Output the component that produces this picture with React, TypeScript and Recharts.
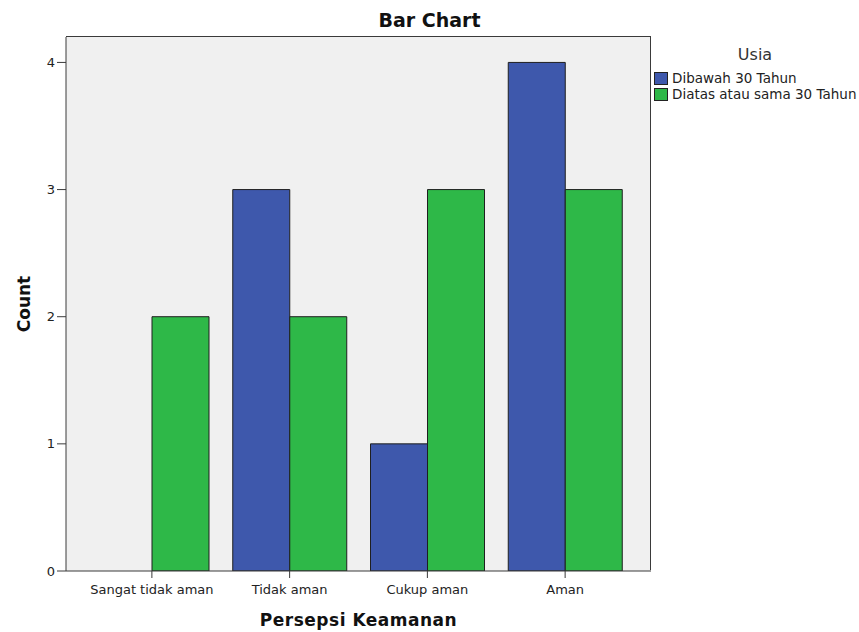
import React from "react";
import { BarChart, Bar, XAxis, YAxis, CartesianGrid, Label } from "recharts";

const categories = ["Sangat tidak aman", "Tidak aman", "Cukup aman", "Aman"];
const dibawah30 = [0, 3, 1, 4];
const diatas30 = [2, 2, 3, 3];
const yTicks = [0, 1, 2, 3, 4];
const seriesNames = ["Dibawah 30 Tahun", "Diatas atau sama 30 Tahun"];
const legendTitle = "Usia";
const chartTitle = "Bar Chart";

const BLUE = "#3E58AC";
const GREEN = "#2EB848";
const AXIS = "#3a3a3a";
const FONT = "'DejaVu Sans', sans-serif";

const W = 859;
const H = 632;
const M_TOP = 37;
const M_RIGHT = 208;
const Y_AXIS_W = 66;
const X_AXIS_H = 61;

const data = categories.map((c, i) => ({
  name: c,
  a: dibawah30[i],
  b: diatas30[i],
}));

const LegendBox = () => (
  <div style={{ position: "absolute", left: W - M_RIGHT, top: 40, width: M_RIGHT, fontFamily: FONT, color: "#222" }}>
    <div style={{ height: 24, lineHeight: "24px", paddingTop: 3, textAlign: "center", fontSize: 16, color: "#333" }}>
      {legendTitle}
    </div>
    <div style={{ marginTop: 3 }}>
      {seriesNames.map((n, i) => (
        <div key={n} style={{ display: "flex", alignItems: "center", height: 16, whiteSpace: "nowrap" }}>
          <div
            style={{
              marginLeft: 3,
              width: 12,
              height: 11,
              background: i === 0 ? BLUE : GREEN,
              border: "1px solid #222",
            }}
          />
          <span style={{ marginLeft: 4, fontSize: 13.5, lineHeight: "16px" }}>{n}</span>
        </div>
      ))}
    </div>
  </div>
);

export default function App() {
  return (
    <div style={{ position: "absolute", left: 0, top: 0, width: W, height: H, background: "#fff" }}>
      <BarChart
        width={W}
        height={H}
        data={data}
        margin={{ top: M_TOP, right: M_RIGHT, bottom: 0, left: 0 }}
        barCategoryGap={12}
        barGap={0}
      >
        <CartesianGrid fill="#F0F0F0" horizontal={false} vertical={false} />
        <XAxis
          dataKey="name"
          height={X_AXIS_H}
          padding={{ left: 17, right: 17 }}
          tickSize={7}
          tickMargin={7}
          stroke={AXIS}
          tick={{ fill: "#222", fontSize: 13, fontFamily: FONT }}
          interval={0}
        >
          <Label
            value="Persepsi Keamanan"
            position="center"
            dy={18}
            style={{ fontFamily: FONT, fontWeight: "bold", fontSize: 17, fill: "#111", letterSpacing: 0.5 }}
          />
        </XAxis>
        <YAxis
          width={Y_AXIS_W}
          domain={[0, 4.2]}
          ticks={yTicks}
          tickSize={9}
          tickMargin={2}
          stroke={AXIS}
          tick={{ fill: "#222", fontSize: 13, fontFamily: FONT }}
          allowDataOverflow
        >
          <Label
            value="Count"
            position="center"
            angle={-90}
            dx={-9}
            style={{ fontFamily: FONT, fontWeight: "bold", fontSize: 17, fill: "#111", textAnchor: "middle" }}
          />
        </YAxis>
        <Bar dataKey="a" name={seriesNames[0]} fill={BLUE} stroke="#1f1f1f" strokeWidth={1} isAnimationActive={false} />
        <Bar dataKey="b" name={seriesNames[1]} fill={GREEN} stroke="#1f1f1f" strokeWidth={1} isAnimationActive={false} />
      </BarChart>
      <div
        style={{
          position: "absolute",
          left: Y_AXIS_W,
          top: M_TOP - 1,
          width: W - M_RIGHT - Y_AXIS_W,
          height: H - X_AXIS_H - M_TOP,
          borderTop: `1px solid ${AXIS}`,
          borderRight: `1px solid ${AXIS}`,
          boxSizing: "border-box",
          pointerEvents: "none",
        }}
      />
      <div
        style={{
          position: "absolute",
          left: 0,
          top: 5,
          width: W,
          textAlign: "center",
          fontFamily: FONT,
          fontWeight: "bold",
          fontSize: 19,
          lineHeight: "30px",
          color: "#111",
        }}
      >
        {chartTitle}
      </div>
      <LegendBox />
    </div>
  );
}
